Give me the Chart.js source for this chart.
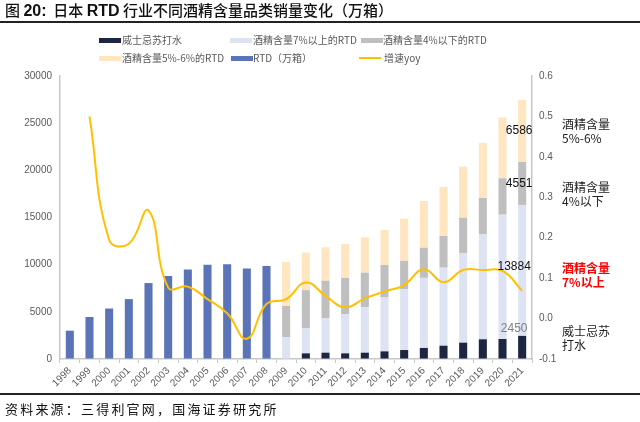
<!DOCTYPE html>
<html>
<head>
<meta charset="utf-8">
<script src="https://cdn.jsdelivr.net/npm/chart.js"></script>
<style>
  html,body{margin:0;padding:0;background:#fff;}
  #wrap{position:relative;width:640px;height:422px;overflow:hidden;font-family:"Noto Sans CJK SC","Noto Sans",sans-serif;}
  #c{position:absolute;left:0;top:0;}
  .title{position:absolute;left:5px;top:0;font-size:15px;font-weight:500;color:#111;white-space:nowrap;line-height:20px;}
  .title b{font-family:"Liberation Sans",Arial,sans-serif;font-size:16px;}
  .rule{position:absolute;left:0;width:640px;height:1.5px;background:#222;}
  .lg{position:absolute;font-size:10px;color:#595959;white-space:nowrap;line-height:12px;}
  .sw{position:absolute;width:22px;height:5px;}
  .note{position:absolute;left:562px;font-size:12px;color:#222;line-height:14px;white-space:nowrap;}
  .foot{position:absolute;left:5px;top:400px;font-size:13px;color:#111;letter-spacing:2.2px;white-space:nowrap;line-height:17px;}
</style>
</head>
<body>
<div id="wrap">
  <canvas id="c" width="640" height="422"></canvas>
  <div class="title">图 <b>20:</b>&nbsp; 日本 <b>RTD</b> 行业不同酒精含量品类销量变化（万箱）</div>
  <div class="rule" style="top:21px"></div>

  <div class="sw" style="left:99px;top:38px;background:#1c2541"></div>
  <div class="lg" style="left:122px;top:34px">威士忌苏打水</div>
  <div class="sw" style="left:230px;top:38px;background:#dde3f2"></div>
  <div class="lg" style="left:253px;top:34px">酒精含量7%以上的RTD</div>
  <div class="sw" style="left:361px;top:38px;background:#bfbfbf"></div>
  <div class="lg" style="left:383px;top:34px">酒精含量4%以下的RTD</div>
  <div class="sw" style="left:99px;top:56px;background:#ffe5c0"></div>
  <div class="lg" style="left:122px;top:52px">酒精含量5%-6%的RTD</div>
  <div class="sw" style="left:231px;top:56px;background:#5b74b8"></div>
  <div class="lg" style="left:253px;top:52px">RTD（万箱）</div>
  <div class="sw" style="left:359px;top:57px;height:2px;background:#ffc000"></div>
  <div class="lg" style="left:384px;top:52px">增速yoy</div>

  <div class="note" style="top:117px">酒精含量<br>5%-6%</div>
  <div class="note" style="top:180px">酒精含量<br>4%以下</div>
  <div class="note" style="top:261px;color:#ff0000;font-weight:bold">酒精含量<br>7%以上</div>
  <div class="note" style="top:324px">威士忌苏<br>打水</div>

  <div class="rule" style="top:393px"></div>
  <div class="foot">资料来源：三得利官网，国海证券研究所</div>
</div>
<script>
const years = ['1998','1999','2000','2001','2002','2003','2004','2005','2006','2007','2008','2009','2010','2011','2012','2013','2014','2015','2016','2017','2018','2019','2020','2021'];
const rtdTotal = [3000,4450,5350,6350,8050,8800,9500,10000,10050,9600,9850,null,null,null,null,null,null,null,null,null,null,null,null,null];
const whisky = [null,null,null,null,null,null,null,null,null,null,null,0,600,670,600,670,810,950,1170,1410,1730,2090,2120,2450];
const abv7up = [null,null,null,null,null,null,null,null,null,null,null,2290,2650,3640,4170,4840,5760,6440,7430,8270,9510,11160,13180,13884];
const abv4down = [null,null,null,null,null,null,null,null,null,null,null,3330,4050,3990,3830,3640,3400,3010,3200,3360,3740,3820,3860,4551];
const abv5to6 = [null,null,null,null,null,null,null,null,null,null,null,4680,3970,3540,3600,3750,3710,4480,4950,5200,5420,5830,6440,6586];
const yoy = [null,0.50,0.195,0.185,0.267,0.077,0.079,0.048,0.013,-0.05,0.036,0.048,0.089,0.056,0.028,0.05,0.067,0.083,0.122,0.09,0.12,0.12,0.118,0.069];

const tickFont = {family:'"Liberation Sans", Arial, sans-serif', size:10};
const tickColor = '#595959';
const axisColor = '#c8c8c8';

// labels on the last (2021) stack
const endLabels = {
  id:'endLabels',
  afterDatasetsDraw(chart){
    const ctx = chart.ctx, last = years.length - 1;
    const seg = i => chart.getDatasetMeta(i).data[last];
    ctx.save();
    ctx.font = '12px "Liberation Sans", Arial, sans-serif';
    ctx.textAlign = 'center'; ctx.textBaseline = 'middle';
    ctx.fillStyle = '#111';
    [[3, abv5to6], [2, abv4down], [1, abv7up]].forEach(([i, arr]) => {
      const b = seg(i);
      const dx = i === 1 ? -8 : -3, dy = i === 1 ? -4 : 0;
      ctx.fillText(String(arr[last]), b.x + dx, (b.y + b.base) / 2 + dy);
    });
    const w = seg(0);
    ctx.fillStyle = '#7f7f7f';
    ctx.fillText(String(whisky[last]), w.x - 8, w.y - 7);
    ctx.restore();
  }
};

new Chart(document.getElementById('c'), {
  data: {
    labels: years,
    datasets: [
      {type:'bar', label:'威士忌苏打水', data:whisky, backgroundColor:'#1c2541', yAxisID:'y', order:1},
      {type:'bar', label:'酒精含量7%以上的RTD', data:abv7up, backgroundColor:'#dde3f2', yAxisID:'y', order:1},
      {type:'bar', label:'酒精含量4%以下的RTD', data:abv4down, backgroundColor:'#bfbfbf', yAxisID:'y', order:1},
      {type:'bar', label:'酒精含量5%-6%的RTD', data:abv5to6, backgroundColor:'#ffe5c0', yAxisID:'y', order:1},
      {type:'bar', label:'RTD（万箱）', data:rtdTotal, backgroundColor:'#5b74b8', yAxisID:'y', order:1},
      {type:'line', label:'增速yoy', data:yoy, borderColor:'#ffc000', borderWidth:2, pointRadius:0, tension:0.45, yAxisID:'y1', order:0}
    ]
  },
  options: {
    responsive:false,
    animation:false,
    layout:{padding:{top:76, left:0, right:0, bottom:0}},
    datasets:{bar:{barPercentage:0.5, categoryPercentage:0.82}},
    plugins:{legend:{display:false}, tooltip:{enabled:false}},
    scales:{
      x:{
        stacked:true,
        offset:true,
        grid:{offset:true, drawOnChartArea:false, drawTicks:true, tickLength:4, color:axisColor},
        border:{color:axisColor, width:1.5},
        ticks:{font:tickFont, color:tickColor, minRotation:45, maxRotation:45, autoSkip:false, padding:2},
        afterFit(s){ s.height = 63; }
      },
      y:{
        stacked:true, position:'left', min:0, max:30000,
        grid:{drawOnChartArea:false, drawTicks:false},
        border:{color:axisColor, width:1.5},
        ticks:{stepSize:5000, font:tickFont, color:tickColor, padding:8, callback:v => String(v)},
        afterFit(s){ s.width = 60; }
      },
      y1:{
        stacked:false, position:'right', min:-0.1, max:0.6,
        grid:{drawOnChartArea:false, drawTicks:false},
        border:{color:axisColor, width:1.5},
        ticks:{stepSize:0.1, font:tickFont, color:tickColor, padding:7,
          callback:v => { const r = Math.round(v * 10) / 10; return (r === 0 ? 0 : r).toFixed(1); }},
        afterFit(s){ s.width = 108; }
      }
    }
  },
  plugins:[endLabels]
});
</script>
</body>
</html>
